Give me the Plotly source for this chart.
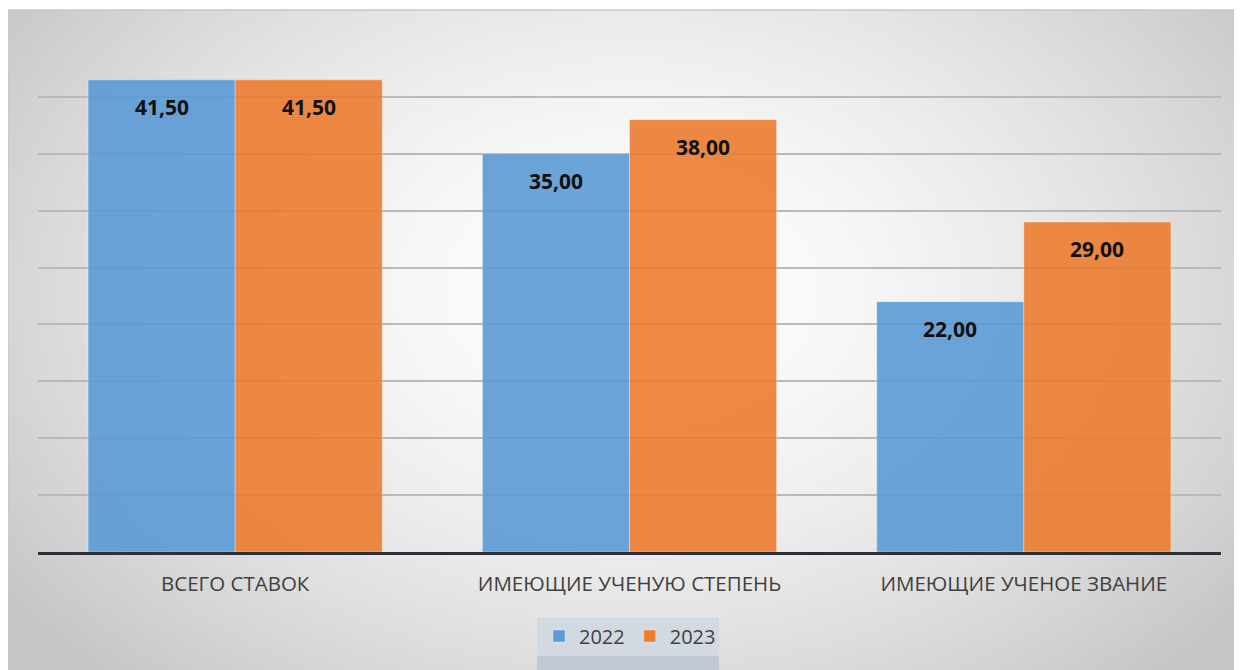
"""Распределение ставок: 2022 и 2023 (столбчатая диаграмма Plotly)."""

import base64
import struct
import zlib

import plotly.graph_objects as go

CATEGORIES = ["ВСЕГО СТАВОК", "ИМЕЮЩИЕ УЧЕНУЮ СТЕПЕНЬ", "ИМЕЮЩИЕ УЧЕНОЕ ЗВАНИЕ"]
YEARS = ["2022", "2023"]
VALUES_2022 = [41.5, 35.0, 22.0]
VALUES_2023 = [41.5, 38.0, 29.0]

COLORS = {"2022": "#5b9bd5", "2023": "#ed7d31"}
W, H = 1242, 670
# страница добавляет отступ 8px, поэтому всё смещено на 8px
PAGE = 8
MARGIN = dict(l=30, r=29, t=32, b=126)
BARGAP = 0.254


def _gradient_png(width: int = 248, height: int = 134) -> str:
    """Радиальная заливка фона (белый центр, серые края) как data URI."""
    cx, cy = 0.5, 0.42
    rows = []
    for j in range(height):
        row = bytearray([0])
        for i in range(width):
            dx = (i / (width - 1) - cx) / 0.62
            dy = (j / (height - 1) - cy) / 0.8
            d = min(1.0, (dx * dx + dy * dy) ** 0.5)
            row.append(int(255 - 57 * d**1.6))
        rows.append(bytes(row))
    raw = b"".join(rows)

    def chunk(tag: bytes, data: bytes) -> bytes:
        return (
            struct.pack(">I", len(data))
            + tag
            + data
            + struct.pack(">I", zlib.crc32(tag + data) & 0xFFFFFFFF)
        )

    png = (
        b"\x89PNG\r\n\x1a\n"
        + chunk(b"IHDR", struct.pack(">IIBBBBB", width, height, 8, 0, 0, 0, 0))
        + chunk(b"IDAT", zlib.compress(raw, 9))
        + chunk(b"IEND", b"")
    )
    return "data:image/png;base64," + base64.b64encode(png).decode()


def _label(value: float) -> str:
    return f"{value:.2f}".replace(".", ",")


# пиксели экрана -> координаты paper
plot_w = W - MARGIN["l"] - MARGIN["r"]
plot_h = H - MARGIN["t"] - MARGIN["b"]


def px_x(x: float) -> float:
    return (x - PAGE - MARGIN["l"]) / plot_w


def px_y(y: float) -> float:
    return (H - MARGIN["b"] - (y - PAGE)) / plot_h


fig = go.Figure()
for year, values in zip(YEARS, [VALUES_2022, VALUES_2023]):
    fig.add_bar(
        x=CATEGORIES,
        y=values,
        name=year,
        marker=dict(
            color=COLORS[year],
            opacity=0.9,
            line=dict(color="rgba(255,255,255,0.35)", width=1),
        ),
        hovertemplate="%{x}<br>" + year + ": %{y:.2f}<extra></extra>",
    )

# подписи значений внутри столбцов
offset = (1 - BARGAP) / 4
for k, values in enumerate([VALUES_2022, VALUES_2023]):
    shift = -offset if k == 0 else offset
    for idx, value in enumerate(values):
        fig.add_annotation(
            x=idx + shift,
            y=value,
            text=_label(value),
            showarrow=False,
            yshift=-27,
            font=dict(family="Open Sans", size=21, color="#111111", weight="bold"),
        )

fig.add_layout_image(
    source=_gradient_png(),
    xref="paper",
    yref="paper",
    x=px_x(8),
    y=px_y(10),
    sizex=px_x(W + 10) - px_x(8),
    sizey=px_y(10) - px_y(H + 10),
    sizing="stretch",
    xanchor="left",
    yanchor="top",
    layer="below",
)
fig.add_shape(
    type="rect",
    xref="paper",
    yref="paper",
    x0=px_x(8),
    x1=px_x(W + 10),
    y0=px_y(H + 10),
    y1=px_y(10),
    line=dict(color="#c8c8c8", width=1.5),
    fillcolor="rgba(0,0,0,0)",
    layer="below",
)
# подложка легенды
fig.add_shape(
    type="rect",
    xref="paper",
    yref="paper",
    x0=px_x(537),
    x1=px_x(719),
    y0=px_y(H + 8),
    y1=px_y(618),
    line=dict(width=0),
    fillcolor="#d3d9e1",
    layer="below",
)
fig.add_shape(
    type="rect",
    xref="paper",
    yref="paper",
    x0=px_x(537),
    x1=px_x(719),
    y0=px_y(H + 8),
    y1=px_y(656),
    line=dict(width=0),
    fillcolor="#c2c9d3",
    layer="below",
)

fig.update_layout(
    width=W,
    height=H,
    margin=MARGIN,
    barmode="group",
    bargap=BARGAP,
    bargroupgap=0,
    paper_bgcolor="white",
    plot_bgcolor="rgba(0,0,0,0)",
    font=dict(family="Open Sans", color="#404040"),
    showlegend=True,
    legend=dict(
        orientation="h",
        x=px_x(630),
        xanchor="center",
        y=px_y(636),
        yanchor="middle",
        bgcolor="rgba(0,0,0,0)",
        font=dict(size=20, color="#404040"),
        itemwidth=30,
    ),
)
fig.update_xaxes(
    showline=True,
    linecolor="#2a2f38",
    linewidth=2.5,
    showgrid=False,
    ticks="",
    tickfont=dict(size=20.5, color="#404040"),
    ticklabelstandoff=12,
)
fig.update_yaxes(
    range=[0, 45],
    dtick=5,
    showgrid=True,
    gridcolor="#b9b9b9",
    gridwidth=2,
    zeroline=False,
    showticklabels=False,
)

fig.write_html("out.html")
